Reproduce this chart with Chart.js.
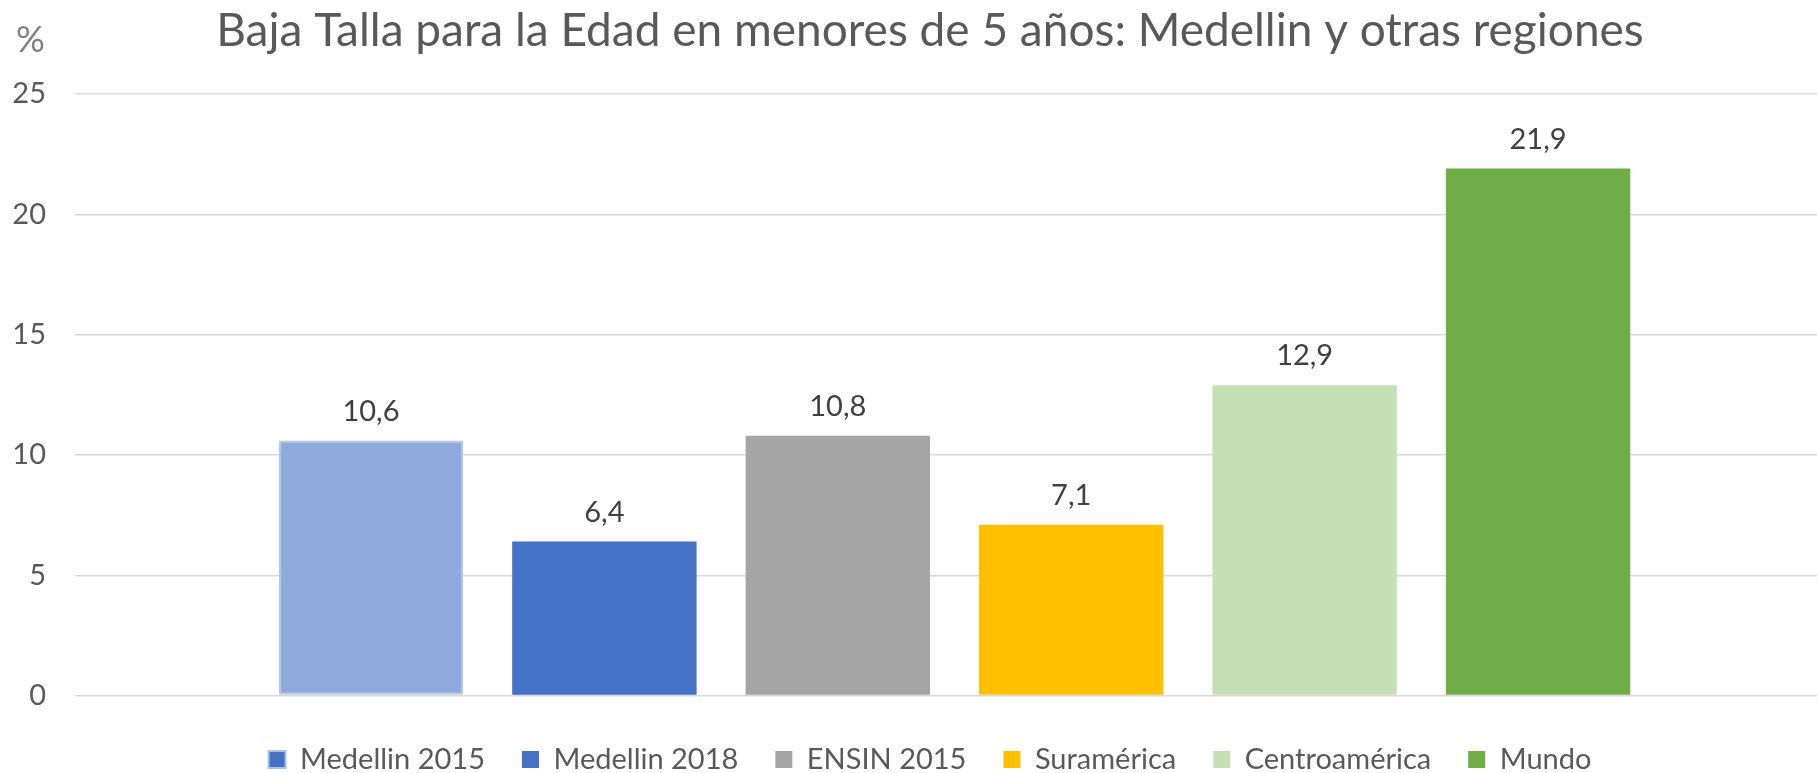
<!DOCTYPE html>
<html>
<head>
<meta charset="utf-8">
<script src="https://cdn.jsdelivr.net/npm/chart.js@4.4.1/dist/chart.umd.min.js"></script>
<style>
    html, body { margin: 0; padding: 0; background: #fff; overflow: hidden; }
    #chart-box { width: 1817px; height: 773px; }
</style>
</head>
<body>
<div id="chart-box"><canvas id="chart"></canvas></div>
<script>
const title_text = 'Baja Talla para la Edad en menores de 5 años: Medellin y otras regiones';
const categories = ['Medellin 2015', 'Medellin 2018', 'ENSIN 2015', 'Suramérica', 'Centroamérica', 'Mundo'];
const values = [10.6, 6.4, 10.8, 7.1, 12.9, 21.9];
const y_ticks = [0, 5, 10, 15, 20, 25];
const unit_label = '%';

// category slots on a linear x axis, range leaves room like the original
const x_min = -0.268;
const x_max = 7.195;

const bar_colors = ['#8FAADC', '#4472C4', '#A5A5A5', '#FFC000', '#C5E0B4', '#70AD47'];
const bar_borders = ['#B4C7E7', '#4472C4', '#A5A5A5', '#FFC000', '#C5E0B4', '#70AD47'];
const legend_fill = ['#4472C4', '#4472C4', '#A5A5A5', '#FFC000', '#C5E0B4', '#70AD47'];
const legend_border = ['#A9C0E8', '#4472C4', '#A5A5A5', '#FFC000', '#C5E0B4', '#70AD47'];

Chart.defaults.font.family = 'Lato';

function format_value(v) {
    return v.toFixed(1).replace('.', ',');
}

// value above each bar
const value_labels = {
    id: 'value_labels',
    afterDatasetsDraw(chart) {
        const ctx = chart.ctx;
        ctx.save();
        ctx.font = '29px Lato';
        ctx.fillStyle = '#404040';
        ctx.textAlign = 'center';
        ctx.textBaseline = 'alphabetic';
        chart.data.datasets.forEach((ds, i) => {
            chart.getDatasetMeta(i).data.forEach((bar, j) => {
                ctx.fillText(format_value(ds.data[j].y), bar.x, bar.y - 20);
            });
        });
        ctx.restore();
    }
};

// the little "%" in the top left corner
const unit_text = {
    id: 'unit_text',
    afterDraw(chart) {
        const ctx = chart.ctx;
        ctx.save();
        ctx.font = '36px Lato';
        ctx.fillStyle = '#7F7F7F';
        ctx.textAlign = 'left';
        ctx.textBaseline = 'alphabetic';
        ctx.fillText(unit_label, 16, 52);
        ctx.restore();
    }
};

const datasets = categories.map((name, i) => ({
    label: name,
    data: [{x: i + 1, y: values[i]}],
    backgroundColor: bar_colors[i],
    borderColor: bar_borders[i],
    borderWidth: i === 0 ? 2 : 0,
    borderSkipped: false,
    grouped: false,
    barPercentage: 0.79,
    categoryPercentage: 1
}));

const chart = new Chart(document.getElementById('chart').getContext('2d'), {
    type: 'bar',
    data: { datasets: datasets },
    plugins: [value_labels, unit_text],
    options: {
        responsive: true,
        maintainAspectRatio: false,
        animation: false,
        devicePixelRatio: 1,
        events: [],
        layout: {
            // shifts title and legend to the right like the original
            padding: { left: 0, right: -43, top: 0, bottom: 0 }
        },
        scales: {
            x: {
                type: 'linear',
                min: x_min,
                max: x_max,
                offset: false,
                afterBuildTicks: (scale) => {
                    scale.ticks = categories.map((c, i) => ({value: i + 1}));
                },
                ticks: { display: false },
                grid: { display: false },
                border: { display: false },
                afterFit: (scale) => { scale.height = 12.4; }
            },
            y: {
                min: 0,
                max: 25,
                afterBuildTicks: (scale) => {
                    scale.ticks = y_ticks.map(v => ({value: v}));
                },
                afterFit: (scale) => { scale.width = 75; },
                ticks: {
                    padding: 29,
                    color: '#595959',
                    font: { size: 29 }
                },
                grid: {
                    color: '#D9D9D9',
                    lineWidth: 1.5,
                    drawTicks: false
                },
                border: { display: false }
            }
        },
        plugins: {
            title: {
                display: true,
                text: title_text,
                color: '#595959',
                font: { size: 46, weight: 'normal' },
                padding: { top: 4, bottom: 34.8 }
            },
            legend: {
                position: 'bottom',
                maxHeight: 65,
                labels: {
                    color: '#595959',
                    font: { size: 29 },
                    boxWidth: 17,
                    boxHeight: 17,
                    padding: 37,
                    generateLabels: (chart) => {
                        const items = Chart.defaults.plugins.legend.labels.generateLabels(chart);
                        items.forEach((item, i) => {
                            item.fillStyle = legend_fill[i];
                            item.strokeStyle = legend_border[i];
                            item.lineWidth = i === 0 ? 2 : 0;
                        });
                        return items;
                    }
                }
            },
            tooltip: { enabled: false }
        }
    }
});
</script>
</body>
</html>
